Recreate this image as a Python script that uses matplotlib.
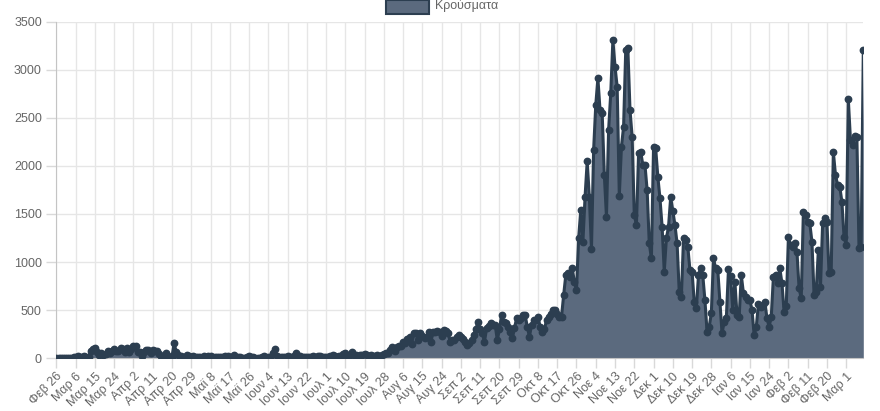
import numpy as np
import pandas as pd
import matplotlib.pyplot as plt
from matplotlib.patches import Rectangle

plt.rcParams['font.family'] = ['Liberation Sans', 'DejaVu Sans']

# Greek month abbreviations used by the x labels
months_gr = ['Ιαν', 'Φεβ', 'Μαρ', 'Απρ', 'Μαϊ', 'Ιουν',
             'Ιουλ', 'Αυγ', 'Σεπ', 'Οκτ', 'Νοε', 'Δεκ']
start_date = '2020-02-26'
end_date = '2021-03-09'

# daily cases, one row per labelled 9-day block
cases = [
    1, 1, 1, 0, 0, 3, 0, 2, 9,
    14, 21, 7, 11, 16, 10, 9, 75, 98,
    105, 62, 35, 56, 31, 46, 77, 50, 71,
    95, 78, 71, 102, 95, 64, 104, 60, 90,
    125, 129, 62, 60, 20, 62, 80, 81, 56,
    81, 75, 68, 40, 25, 15, 50, 24, 8,
    12, 156, 61, 33, 20, 15, 12, 27, 22,
    11, 24, 10, 12, 7, 4, 20, 9, 17,
    26, 5, 6, 10, 7, 10, 6, 23, 16,
    10, 7, 28, 4, 15, 7, 5, 4, 9,
    17, 12, 9, 3, 5, 1, 7, 16, 4,
    13, 10, 55, 97, 21, 4, 6, 15, 10,
    18, 6, 7, 20, 55, 19, 18, 10, 10,
    9, 9, 15, 19, 12, 20, 18, 8, 12,
    12, 14, 22, 32, 24, 12, 16, 21, 45,
    55, 26, 32, 58, 28, 27, 20, 32, 35,
    40, 30, 22, 33, 23, 16, 28, 25, 31,
    44, 57, 48, 83, 110, 75, 118, 121, 124,
    170, 153, 203, 222, 151, 257, 262, 187, 257,
    230, 205, 217, 269, 168, 274, 269, 284, 274,
    228, 290, 284, 256, 169, 190, 187, 215, 240,
    222, 200, 170, 135, 160, 187, 240, 300, 378,
    300, 257, 170, 309, 330, 361, 340, 344, 187,
    300, 448, 378, 361, 326, 274, 205, 309, 413,
    396, 420, 448, 448, 326, 222, 344, 396, 396,
    430, 326, 274, 300, 396, 430, 460, 500, 500,
    460, 430, 430, 656, 864, 882, 841, 937, 795,
    708, 1250, 1540, 1211, 1680, 2050, 1680, 1140, 2167,
    2635, 2913, 2580, 2550, 1906, 1472, 2375, 2757, 3312,
    3035, 2826, 1691, 2201, 2410, 3208, 3226, 2583, 2306,
    1490, 1385, 2132, 2149, 2010, 2010, 1750, 1194, 1038,
    2201, 2184, 1889, 1663, 1368, 899, 1246, 1368, 1674,
    1535, 1385, 1194, 691, 639, 1246, 1229, 1160, 917,
    899, 587, 517, 864, 934, 864, 604, 274, 326,
    465, 1038, 934, 920, 587, 257, 378, 413, 924,
    850, 500, 795, 448, 430, 864, 673, 640, 604,
    604, 500, 240, 326, 562, 527, 551, 587, 413,
    326, 430, 847, 864, 778, 934, 778, 482, 538,
    1257, 1177, 1160, 1194, 1107, 726, 622, 1524, 1490,
    1420, 1403, 1212, 656, 690, 1125, 743, 1403, 1455,
    1420, 882, 900, 2149, 1906, 1802, 1785, 1628, 1264,
    1177, 2695, 2271, 2219, 2310, 2299, 1142, 1160, 3208,
]

dates = pd.date_range(start_date, end_date, freq='D')
labels = [f"{months_gr[d.month - 1]} {d.day}" for d in dates]
x = np.arange(len(cases))

fill_col = '#5b6a7e'
line_col = '#2c3e50'
text_col = '#666666'
grid_col = '#e6e6e6'

fig = plt.figure(figsize=(8.8, 4.11), dpi=100)
ax = fig.add_axes([56.4 / 880, 1 - 358 / 411, (863.3 - 56.4) / 880, (358 - 22) / 411])

ax.fill_between(x, cases, color=fill_col, linewidth=0, zorder=1)
ax.plot(x, cases, color=line_col, lw=2.2, marker='o', ms=4.6,
        markerfacecolor=line_col, markeredgecolor=line_col, zorder=3)

ax.set_xlim(0, len(cases) - 1)
ax.set_ylim(0, 3500)
ax.set_yticks(np.arange(0, 3501, 500))
ax.set_xticks(x[::9])
ax.set_xticklabels(labels[::9], rotation=45, ha='right', rotation_mode='anchor')

ax.grid(True, color=grid_col, lw=1, zorder=0)
ax.set_axisbelow(True)
ax.tick_params(axis='both', colors='#d9d9d9', labelcolor=text_col, labelsize=9, length=7, width=1)
ax.tick_params(axis='x', pad=2)
for s in ['top', 'right']:
    ax.spines[s].set_visible(False)
for s in ['left', 'bottom']:
    ax.spines[s].set_color('#c4c4c4')

# legend at top centre
fig.patches.append(Rectangle((386 / 880, 1 - 14 / 411), 43 / 880, 14 / 411,
                             transform=fig.transFigure, facecolor=fill_col,
                             edgecolor=line_col, lw=1.5))
fig.text(435 / 880, 1 - 5 / 411, 'Κρούσματα', color=text_col, fontsize=9,
         ha='left', va='center')

fig.savefig('out.png', dpi=100)
